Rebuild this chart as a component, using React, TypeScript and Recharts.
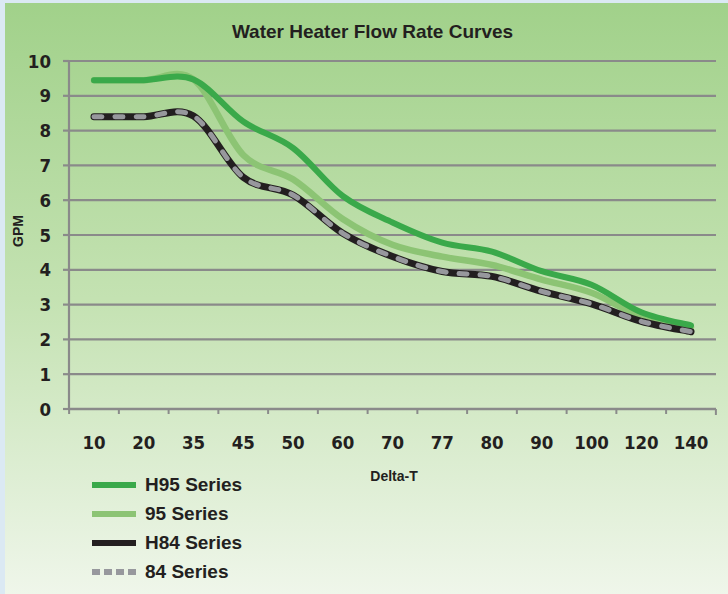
import { CartesianGrid, Legend, Line, LineChart, XAxis, YAxis } from "recharts";

const deltaT = ["10", "20", "35", "45", "50", "60", "70", "77", "80", "90", "100", "120", "140"];
const h95 = [9.45, 9.45, 9.47, 8.26, 7.5, 6.12, 5.36, 4.78, 4.52, 3.96, 3.57, 2.78, 2.4];
const s95 = [9.45, 9.45, 9.47, 7.3, 6.6, 5.46, 4.72, 4.38, 4.14, 3.72, 3.34, 2.66, 2.35];
const h84 = [8.4, 8.4, 8.42, 6.66, 6.15, 5.05, 4.38, 3.95, 3.81, 3.38, 3.02, 2.52, 2.22];
const s84 = [8.4, 8.4, 8.42, 6.66, 6.15, 5.05, 4.38, 3.95, 3.81, 3.38, 3.02, 2.52, 2.22];
const gpmTicks = [0, 1, 2, 3, 4, 5, 6, 7, 8, 9, 10];

const data = deltaT.map((d, i) => ({ d, h95: h95[i], s95: s95[i], h84: h84[i], s84: s84[i] }));

const legendItems = [
  { name: "H95 Series", color: "#3aa94a", dash: undefined },
  { name: "95 Series", color: "#8cc474", dash: undefined },
  { name: "H84 Series", color: "#231f20", dash: undefined },
  { name: "84 Series", color: "#97989d", dash: "8 4" },
];

const INK = "#231f20";
const GRID = "#8a8a8a";
const NARROW = "'Liberation Sans Narrow', 'DejaVu Sans Condensed', sans-serif";
const SANS = "'Liberation Sans', Arial, sans-serif";

// excel-style smoothed line (catmull-rom through the points)
const smooth = (context: any) => {
  let pts: number[][] = [];
  return {
    areaStart() {},
    areaEnd() {},
    lineStart() {
      pts = [];
    },
    point(x: number, y: number) {
      pts.push([+x, +y]);
    },
    lineEnd() {
      if (!pts.length) return;
      context.moveTo(pts[0][0], pts[0][1]);
      for (let i = 0; i < pts.length - 1; i++) {
        const p0 = pts[Math.max(i - 1, 0)];
        const p1 = pts[i];
        const p2 = pts[i + 1];
        const p3 = pts[Math.min(i + 2, pts.length - 1)];
        context.bezierCurveTo(
          p1[0] + (p2[0] - p0[0]) / 6,
          p1[1] + (p2[1] - p0[1]) / 6,
          p2[0] - (p3[0] - p1[0]) / 6,
          p2[1] - (p3[1] - p1[1]) / 6,
          p2[0],
          p2[1]
        );
      }
    },
  };
};

function XTick(props: any) {
  const { x, y, payload, index, visibleTicksCount } = props;
  const w = props.width ?? 647;
  const half = w / visibleTicksCount / 2;
  return (
    <g>
      <line x1={x - half} x2={x - half} y1={y} y2={y + 5} stroke={GRID} strokeWidth={2} />
      {index === visibleTicksCount - 1 && (
        <line x1={x + half} x2={x + half} y1={y} y2={y + 6} stroke={GRID} strokeWidth={2} />
      )}
      <text x={x} y={y + 40} textAnchor="middle" fill={INK} fontSize={18.5} fontWeight={700} fontFamily={NARROW}>
        {payload.value}
      </text>
    </g>
  );
}

function LegendBox() {
  return (
    <div style={{ fontFamily: SANS, fontWeight: 700, fontSize: 19, color: INK }}>
      {legendItems.map((it) => (
        <div key={it.name} style={{ display: "flex", alignItems: "center", height: 29 }}>
          <svg width={44} height={8} style={{ marginRight: 9 }}>
            <line x1={0} x2={44} y1={4} y2={4} stroke={it.color} strokeWidth={6} strokeDasharray={it.dash} />
          </svg>
          <span>{it.name}</span>
        </div>
      ))}
    </div>
  );
}

export default function App() {
  return (
    <div style={{ position: "absolute", left: 0, top: 0, width: 728, height: 594, background: "#dbe9f3", overflow: "hidden" }}>
      <div
        style={{
          position: "absolute",
          left: 5,
          top: 3,
          width: 723,
          height: 591,
          background: "linear-gradient(#a1d18a, #c4e2b2 50%, #eff6ea)",
        }}
      />
      <div
        style={{
          position: "absolute",
          left: 0,
          width: 745,
          top: 21,
          textAlign: "center",
          fontFamily: SANS,
          fontWeight: 700,
          fontSize: 19,
          color: INK,
        }}
      >
        Water Heater Flow Rate Curves
      </div>
      <div
        style={{
          position: "absolute",
          left: 18,
          top: 231,
          transform: "translate(-50%, -50%) rotate(-90deg)",
          fontFamily: SANS,
          fontWeight: 700,
          fontSize: 14,
          color: INK,
        }}
      >
        GPM
      </div>
      <div
        style={{
          position: "absolute",
          left: 394,
          top: 476,
          transform: "translate(-50%, -50%)",
          fontFamily: SANS,
          fontWeight: 700,
          fontSize: 14,
          color: INK,
        }}
      >
        Delta-T
      </div>
      <div style={{ position: "absolute", left: 0, top: 0 }}>
        <LineChart width={728} height={594} data={data} margin={{ top: 61, right: 12, bottom: 135, left: 0 }}>
          <CartesianGrid vertical={false} stroke={GRID} strokeWidth={2.2} />
          <XAxis
            dataKey="d"
            padding={{ left: 25, right: 25 }}
            height={50}
            tickSize={0}
            tickMargin={0}
            axisLine={{ stroke: GRID, strokeWidth: 2.5 }}
            tick={<XTick />}
            interval={0}
          />
          <YAxis
            width={69}
            domain={[0, 10]}
            ticks={gpmTicks}
            interval={0}
            tickSize={6}
            tickMargin={12}
            axisLine={{ stroke: GRID, strokeWidth: 2.2 }}
            tickLine={{ stroke: GRID, strokeWidth: 2.2 }}
            tick={{ fill: INK, fontSize: 18.5, fontWeight: 700, fontFamily: NARROW }}
          />
          <Legend
            layout="vertical"
            align="center"
            verticalAlign="middle"
            content={<LegendBox />}
            wrapperStyle={{ left: 92, top: 470, width: 200 }}
          />
          <Line dataKey="s95" name="95 Series" type={smooth as any} stroke="#8cc474" strokeWidth={6.5} strokeLinecap="round" dot={false} isAnimationActive={false} />
          <Line dataKey="h95" name="H95 Series" type={smooth as any} stroke="#3aa94a" strokeWidth={6} strokeLinecap="round" dot={false} isAnimationActive={false} />
          <Line dataKey="h84" name="H84 Series" type={smooth as any} stroke={INK} strokeWidth={7} strokeLinecap="round" dot={false} isAnimationActive={false} />
          <Line
            dataKey="s84"
            name="84 Series"
            type={smooth as any}
            stroke="#97989d"
            strokeWidth={5}
            strokeLinecap="round"
            strokeDasharray="8 13"
            dot={false}
            isAnimationActive={false}
          />
        </LineChart>
      </div>
    </div>
  );
}
